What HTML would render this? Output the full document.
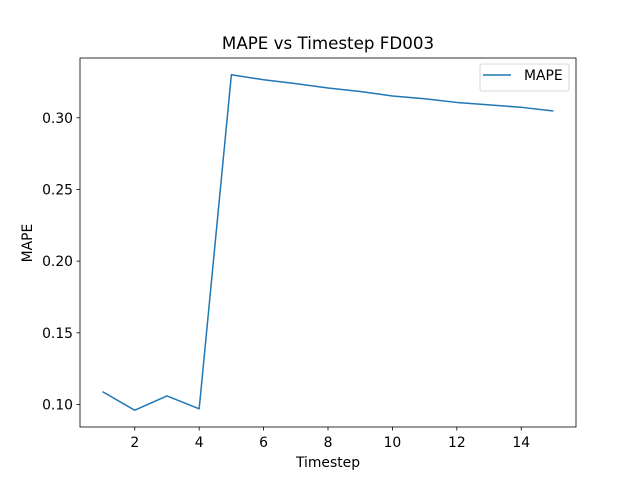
<!DOCTYPE html>
<html><head><meta charset="utf-8"><style>
body{margin:0;background:#fff;}
svg{display:block;font-family:"DejaVu Sans","Liberation Sans",sans-serif;}
</style></head><body>
<svg id="chart" width="640" height="480"></svg>
<script>
const timesteps=[1,2,3,4,5,6,7,8,9,10,11,12,13,14,15];
const mapeValues=[0.109,0.096,0.106,0.097,0.330,0.3265,0.3238,0.3208,0.3183,0.3152,0.3133,0.3107,0.3090,0.3073,0.3047];
const xTicks=[2,4,6,8,10,12,14];
const yTicks=[0.10,0.15,0.20,0.25,0.30];
const yTickLabels=["0.10","0.15","0.20","0.25","0.30"];

const svg=document.getElementById('chart');
const NS='http://www.w3.org/2000/svg';
const L=80,R=576,T=58,B=427;
const xmin=Math.min(...timesteps),xmax=Math.max(...timesteps);
const ymn=Math.min(...mapeValues),ymx=Math.max(...mapeValues);
const x0=xmin-(xmax-xmin)*0.05,x1=xmax+(xmax-xmin)*0.05;
const y0=ymn-(ymx-ymn)*0.05,y1=ymx+(ymx-ymn)*0.05;
const X=v=>L+(v-x0)/(x1-x0)*(R-L);
const Y=v=>B-(v-y0)/(y1-y0)*(B-T);
function mk(tag,attrs,parent){const e=document.createElementNS(NS,tag);for(const k in attrs)e.setAttribute(k,attrs[k]);(parent||svg).appendChild(e);return e;}

const pts=timesteps.map((t,i)=>X(t).toFixed(2)+','+Y(mapeValues[i]).toFixed(2)).join(' ');
const line=mk('polyline',{points:pts,fill:'none',stroke:'#1f77b4','stroke-width':1.5,'stroke-linejoin':'round'});



const frame=mk('rect',{x:L,y:T,width:R-L,height:B-T,fill:'none',stroke:'#000','stroke-width':0.8});



xTicks.forEach(t=>{
  const g=mk('g',{});
  
  
  mk('line',{x1:X(t),x2:X(t),y1:B,y2:B+3.5,stroke:'#000','stroke-width':0.8},g);
  const tx=mk('text',{x:X(t),y:B+20,'text-anchor':'middle','font-size':13.9},g);tx.textContent=t;
});
yTicks.forEach((t,i)=>{
  const g=mk('g',{});
  
  
  mk('line',{x1:L-3.5,x2:L,y1:Y(t),y2:Y(t),stroke:'#000','stroke-width':0.8},g);
  const tx=mk('text',{x:L-7,y:Y(t)+5,'text-anchor':'end','font-size':13.9},g);tx.textContent=yTickLabels[i];
});
</script>
<svg width="640" height="480" style="position:absolute;left:0;top:0">
<text x="328" y="49" text-anchor="middle" font-size="16.7">MAPE vs Timestep FD003</text>
<text x="328" y="467" text-anchor="middle" font-size="13.9">Timestep</text>
<text transform="translate(32,243) rotate(-90)" text-anchor="middle" font-size="13.9">MAPE</text>
<g>
<rect x="480" y="64" width="89" height="27" rx="2" fill="#fff" stroke="#ccc" stroke-width="0.8"/>
<line x1="483" x2="511" y1="75" y2="75" stroke="#1f77b4" stroke-width="1.5"/>
<text x="524" y="80" font-size="13.9">MAPE</text>
</g>
</svg>
</body></html>
